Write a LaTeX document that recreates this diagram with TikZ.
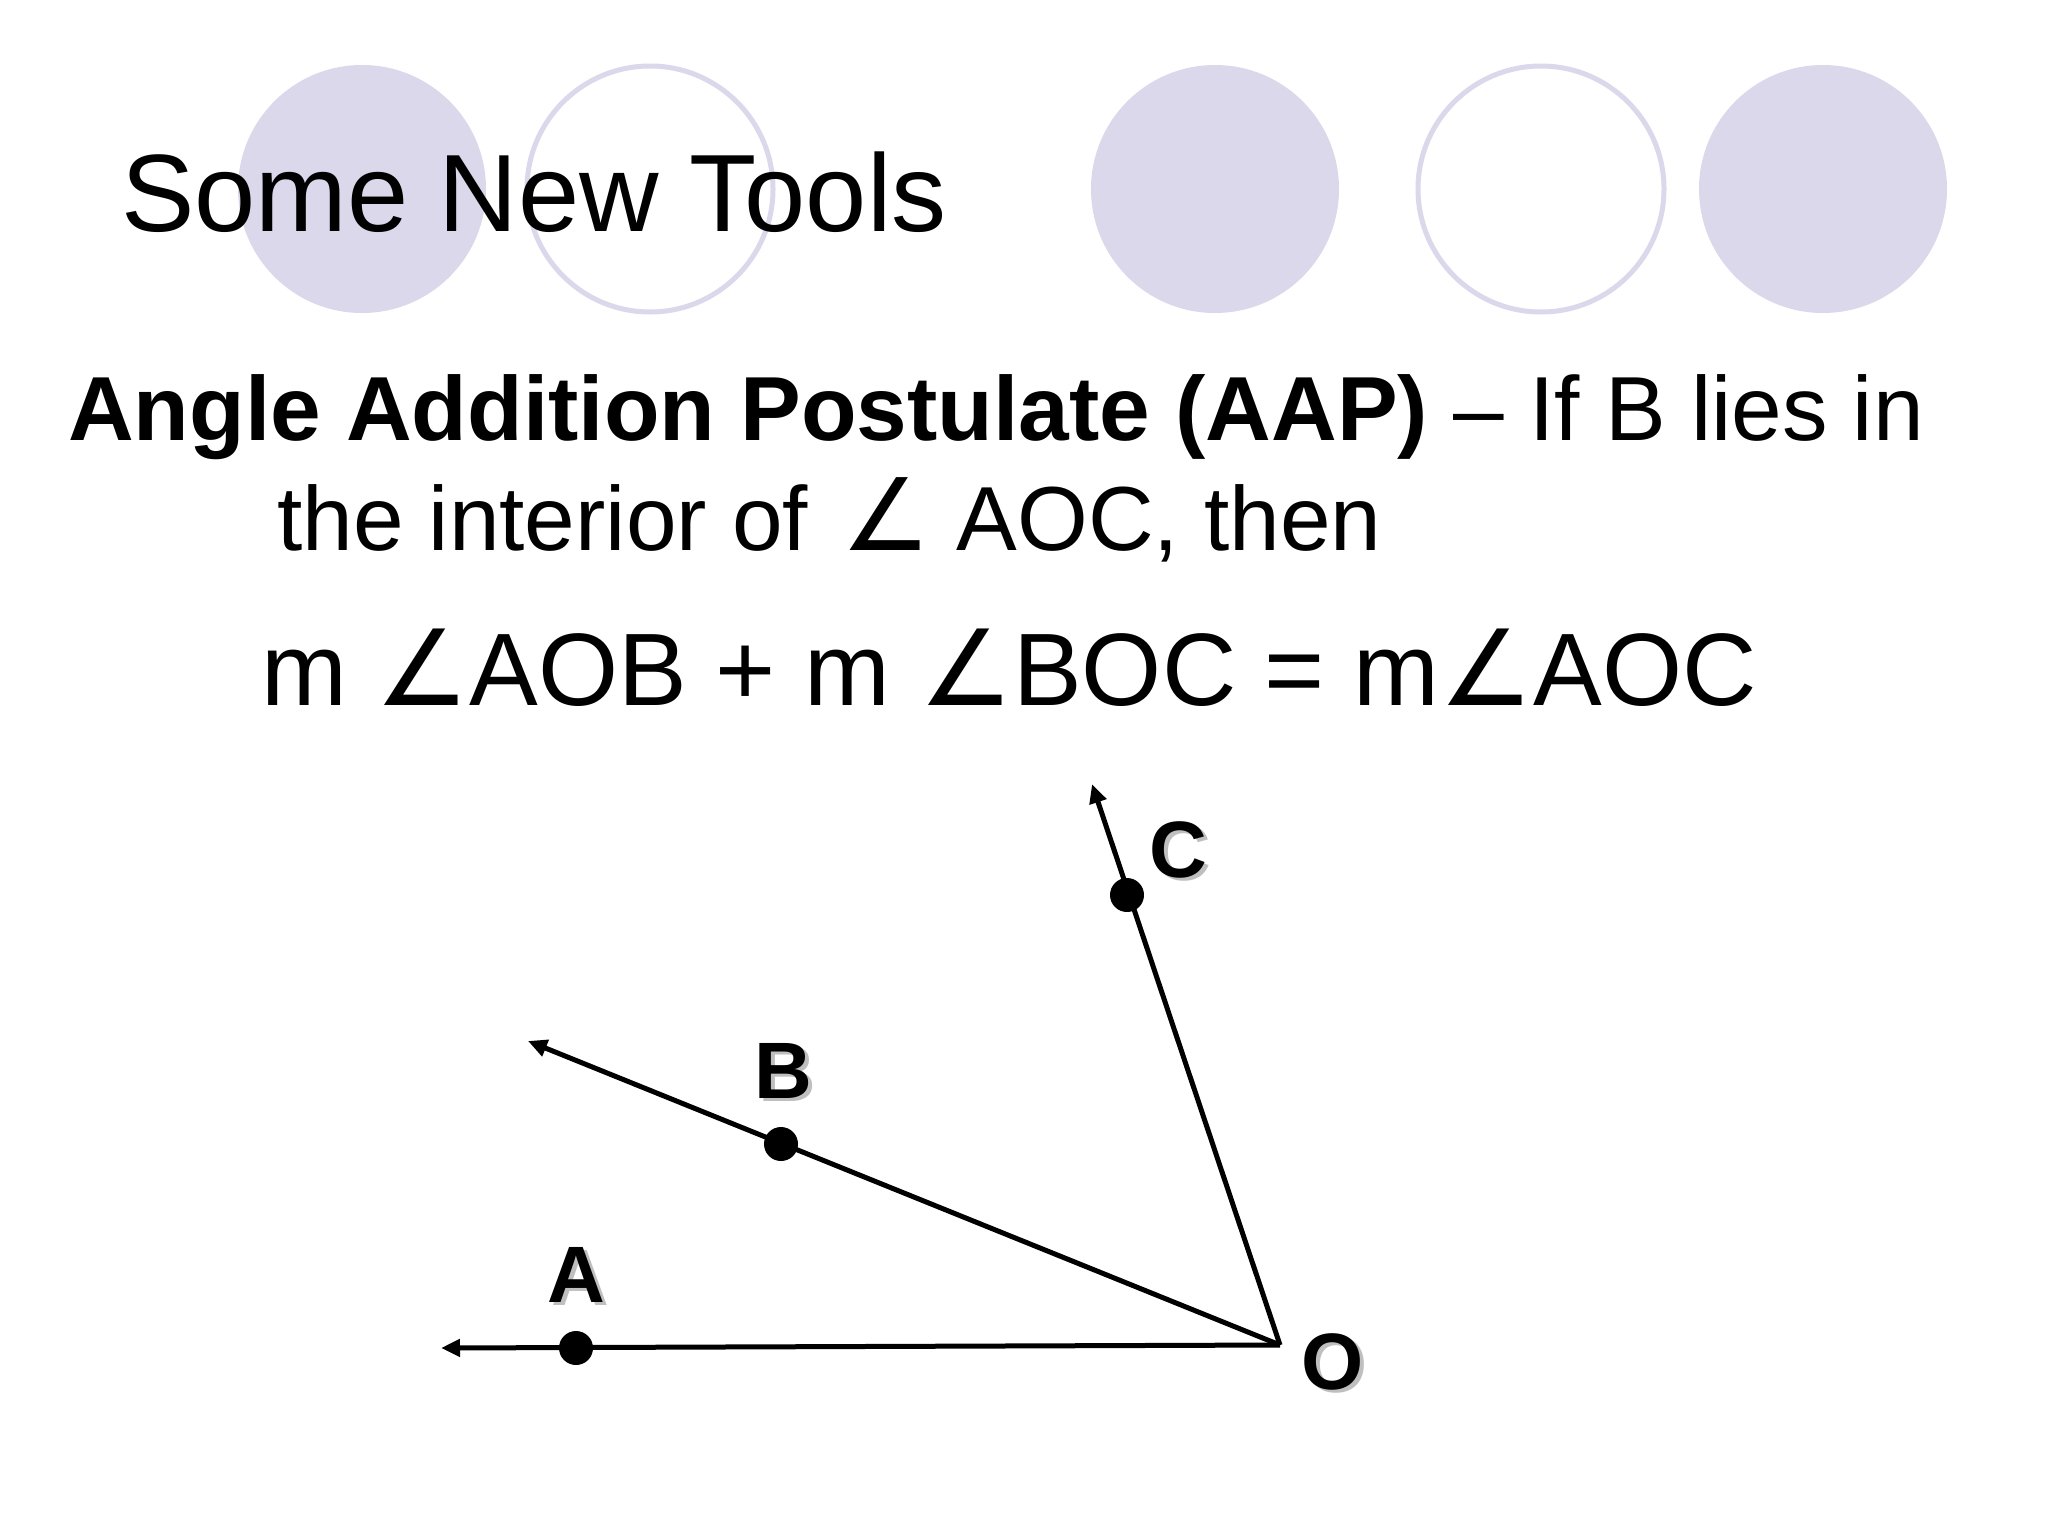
\documentclass[tikz,border=0pt]{standalone}
\usepackage{fontspec}
\setmainfont{Liberation Sans}
\newfontfamily\dejavu{DejaVu Sans}
\usetikzlibrary{arrows.meta}
\definecolor{lav}{HTML}{DAD8EA}
\newcommand{\angsym}[1]{{\dejavu\fontsize{#1}{#1}\selectfont ∠}}
\begin{document}
\begin{tikzpicture}[x=1pt,y=-1pt,
  fullc/.style={fill=lav},
  openc/.style={draw=lav,line width=5pt},
  ray/.style={line width=5pt,-{Triangle[length=19pt,width=17pt]}},
  dot/.style={circle,fill=black,inner sep=0pt,minimum size=34pt},
  lbl/.style={font=\fontsize{80}{90}\selectfont\bfseries,inner sep=0pt},
  shadow/.style={lbl,text=black!25},
  txt/.style={anchor=base west,inner sep=0pt}]
\useasboundingbox (0,0) rectangle (2048,1534);
\fill[white] (0,0) rectangle (2048,1534);
% decorative circles
\fill[fullc] (362,189) circle (124);
\draw[openc] (650,189) circle (123);
\fill[fullc] (1215,189) circle (124);
\draw[openc] (1541,189) circle (123);
\fill[fullc] (1823,189) circle (124);
% texts
\node[txt,font=\fontsize{110}{120}\selectfont] (title) at (121,231) {Some New Tools};
\node[txt,font=\fontsize{91}{100}\selectfont] (l1) at (68,440) {\textbf{Angle Addition Postulate (AAP)} – If B lies in};
\node[txt,font=\fontsize{91}{100}\selectfont] (l2) at (277,550) {the interior of \hspace{8pt}\angsym{100} AOC, then};
\node[txt,font=\fontsize{103}{110}\selectfont] (l3) at (261,705) {m \angsym{105}AOB + m \angsym{105}BOC = m\angsym{105}AOC};
% geometry
\coordinate (O) at (1280,1345);
\coordinate (Aend) at (441,1348);
\coordinate (Bend) at (528,1041);
\coordinate (Cend) at (1092,784);
\draw[ray] (O) -- (Aend);
\draw[ray] (O) -- (Bend);
\draw[ray] (O) -- (Cend);
\node[dot] (A) at (576,1348) {};
\node[dot] (B) at (781,1144) {};
\node[dot] (C) at (1127,895) {};
% labels
\node[shadow] at (580,1278) {A};
\node[lbl] (labA) at (576,1275) {A};
\node[shadow] at (787,1074) {B};
\node[lbl] (labB) at (783,1071) {B};
\node[shadow] at (1182,853) {C};
\node[lbl] (labC) at (1178,850) {C};
\node[shadow] at (1337,1365) {O};
\node[lbl] (labO) at (1333,1362) {O};
\end{tikzpicture}
\end{document}
